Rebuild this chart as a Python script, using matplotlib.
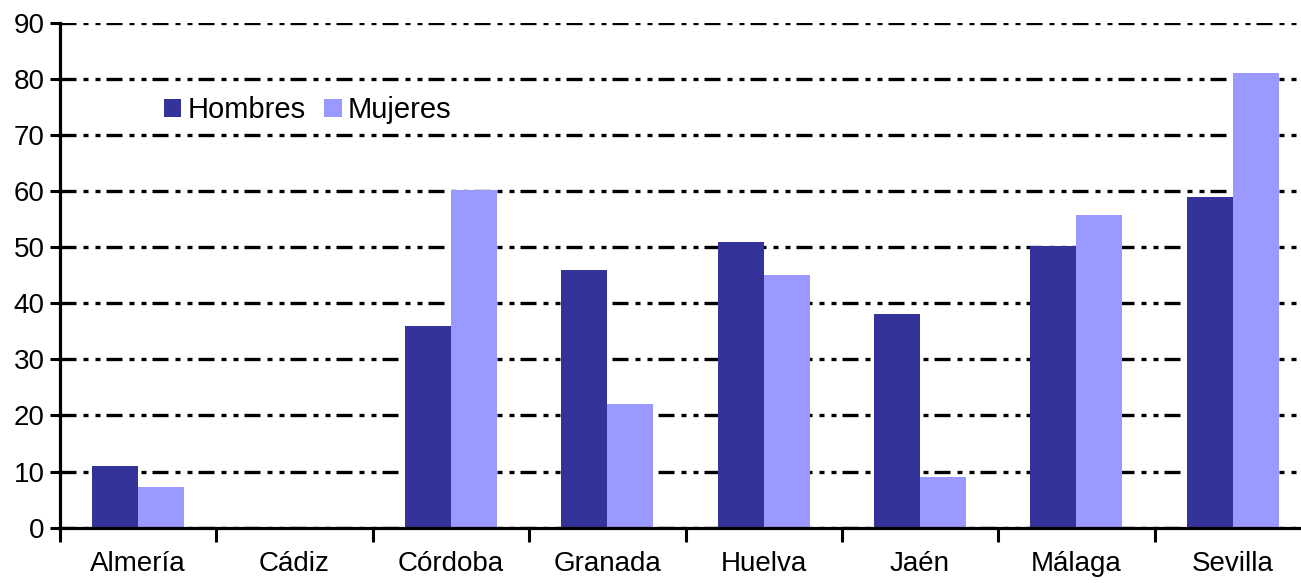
import numpy as np
import matplotlib.pyplot as plt

provincias = ['Almería', 'Cádiz', 'Córdoba', 'Granada', 'Huelva', 'Jaén', 'Málaga', 'Sevilla']
hombres = [11.0, 0, 36.0, 46.0, 51.0, 38.0, 50.2, 59.0]
mujeres = [7.2, 0, 60.2, 22.0, 45.0, 9.0, 55.8, 81.1]

plt.rcParams['font.family'] = ['Liberation Sans', 'DejaVu Sans']

fig = plt.figure(figsize=(13.01, 5.83), dpi=100)
ax = fig.add_axes([60 / 1301, 55.3 / 583, 1251 / 1301, 505 / 583])

x = np.arange(len(provincias)) + 0.5
w = 0.294
ax.bar(x - w / 2, hombres, w, color='#333399', label='Hombres', zorder=3)
ax.bar(x + w / 2, mujeres, w, color='#9999ff', label='Mujeres', zorder=3)

ax.set_xlim(0, len(provincias))
ax.set_ylim(0, 90)

# rejilla punto-punto-raya
ax.set_yticks(np.arange(0, 91, 10))
ax.yaxis.grid(True, color='black', linewidth=2.4,
              linestyle=(0, (4.8, 2.1, 1.5, 2.1, 1.5, 1.8)), zorder=1)
ax.set_axisbelow(True)

ax.set_xticks(np.arange(0, len(provincias) + 1))
ax.set_xticklabels([])
ax.set_xticks(x, minor=True)
ax.set_xticklabels(provincias, minor=True)
ax.tick_params(axis='x', which='major', length=10, width=2.2, direction='out')
ax.tick_params(axis='x', which='minor', length=0, pad=17, labelsize=20)
ax.tick_params(axis='y', length=7, width=2.2, direction='out', pad=4, labelsize=20)

for s in ['top', 'right']:
    ax.spines[s].set_visible(False)
for s in ['left', 'bottom']:
    ax.spines[s].set_linewidth(2.3)
    ax.spines[s].set_zorder(4)

ax.legend(loc='center left', bbox_to_anchor=(0.083, 0.827), ncol=2, frameon=False,
          fontsize=21, handlelength=0.6, handleheight=0.6, handletextpad=0.2,
          columnspacing=0.65, borderpad=0, borderaxespad=0)

fig.savefig('out.png', dpi=100)
